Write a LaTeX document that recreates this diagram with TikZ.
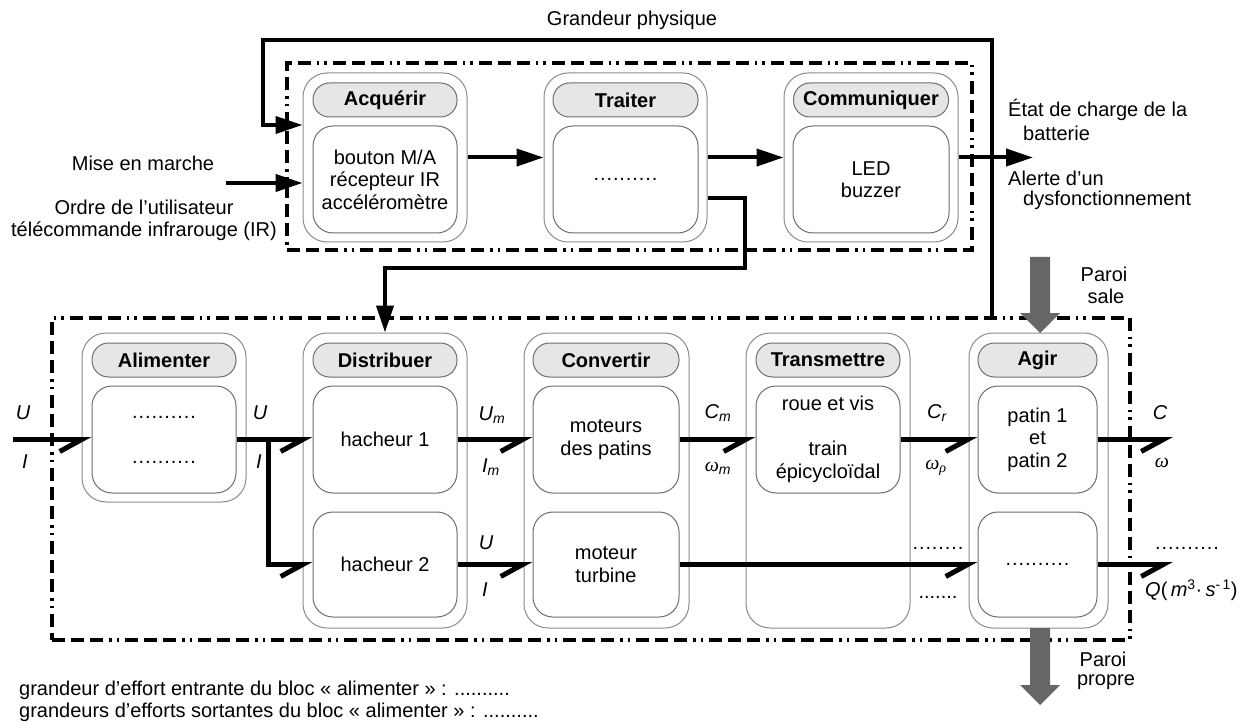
\documentclass[tikz,border=0pt]{standalone}
\usepackage{fontspec}
\setmainfont{Liberation Sans}
\newfontfamily\serifgr{Liberation Serif}
\usetikzlibrary{arrows.meta,calc}
\definecolor{pillfill}{HTML}{E6E6E6}
\definecolor{boxgrey}{HTML}{8C8C8C}
\definecolor{innergrey}{HTML}{6E6E6E}
\definecolor{bigarrow}{HTML}{666666}
\newcommand\bigfont{\fontsize{20}{22.5}\selectfont}
\newcommand\om{{\serifgr\itshape ω}}
\newcommand\dd{.\kern0.9pt}
\newcommand\dten{\dd\dd\dd\dd\dd\dd\dd\dd\dd.}
\tikzset{
 outerbox/.style={draw=boxgrey, line width=1pt, rounded corners=24pt, fill=white, inner sep=0pt},
 pill/.style={draw=innergrey, line width=1pt, rounded corners=16.5pt, fill=pillfill, minimum height=34pt, font=\bigfont\bfseries, inner sep=0pt},
 innerbox/.style={draw=innergrey, line width=1pt, rounded corners=20pt, fill=white, align=center, inner sep=0pt},
 frame/.style={draw=black, line width=3.5pt, inner sep=0pt, dash pattern=on 13pt off 6pt on 13pt off 6pt on 13pt off 6pt on 3pt off 5pt on 2pt off 6pt},
 toparrow/.style={line width=4pt, -{Triangle[length=27pt,width=17pt]}},
 flow/.style={line width=5pt, -{Straight Barb[harpoon,swap,length=22pt,width=24pt]}},
 lbl/.style={inner sep=0pt, font=\bigfont\itshape},
 txt/.style={inner sep=0pt, align=center},
 greyarrow/.style={fill=bigarrow},
}
\begin{document}
\begin{tikzpicture}[x=1pt,y=-1pt,font=\bigfont]
\useasboundingbox (0,0) rectangle (1240,722);

% frames
\node[frame, minimum width=685pt, minimum height=187pt] (tframe) at (629.5,156.5) {};
\node[frame, minimum width=1078pt, minimum height=322pt] (bframe) at (591,479) {};

% top blocks
\node[outerbox, minimum width=164pt, minimum height=169pt] (acq) at (385,157.5) {};
\node[pill, minimum width=144pt] (acqh) at (385,100) {Acquérir};
\node[innerbox, minimum width=144pt, minimum height=107pt] (acqi) at (385,179.5) {bouton M/A\\récepteur IR\\accéléromètre};

\node[outerbox, minimum width=163pt, minimum height=169pt] (tra) at (625.5,157.5) {};
\node[pill, minimum width=145pt] (trah) at (625.5,100) {Traiter};
\node[innerbox, minimum width=145pt, minimum height=107pt] (trai) at (625.5,179.5) {\dten};

\node[outerbox, minimum width=174pt, minimum height=169pt] (com) at (871,157.5) {};
\node[pill, minimum width=155pt] (comh) at (871,100) {Communiquer};
\node[innerbox, minimum width=156pt, minimum height=107pt] (comi) at (871,179.5) {LED\\buzzer};

% bottom blocks
\node[outerbox, minimum width=164pt, minimum height=169pt] (ali) at (164,417.5) {};
\node[pill, minimum width=144pt] (alih) at (164,360) {Alimenter};
\node[innerbox, minimum width=144pt, minimum height=107pt] (alii) at (164,439.5) {\dten\\[22.5pt]\dten};

\node[outerbox, minimum width=164pt, minimum height=295pt] (dis) at (385,480.5) {};
\node[pill, minimum width=144pt] (dish) at (385,360) {Distribuer};
\node[innerbox, minimum width=144pt, minimum height=107pt] (h1) at (385,439.5) {hacheur 1};
\node[innerbox, minimum width=144pt, minimum height=105pt] (h2) at (385,564.5) {hacheur 2};

\node[outerbox, minimum width=165pt, minimum height=295pt] (con) at (606.5,480.5) {};
\node[pill, minimum width=146pt] (conh) at (606,360) {Convertir};
\node[innerbox, minimum width=146pt, minimum height=107pt] (c1) at (606,439.5) {moteurs\\des patins};
\node[innerbox, minimum width=146pt, minimum height=105pt] (c2) at (606,564.5) {moteur\\turbine};

\node[outerbox, minimum width=164pt, minimum height=295pt] (trm) at (828,480.5) {};
\node[pill, minimum width=144pt] (trmh) at (828,360) {Transmettre};
\node[innerbox, minimum width=144pt, minimum height=107pt] (t1) at (828,439.5) {roue et vis\\[22.5pt]train\\épicycloïdal};

\node[outerbox, minimum width=139pt, minimum height=295pt] (agi) at (1038.5,480.5) {};
\node[pill, minimum width=119pt] (agih) at (1037.5,360) {Agir};
\node[innerbox, minimum width=119pt, minimum height=107pt] (a1) at (1037.5,439.5) {patin 1\\et\\patin 2};
\node[innerbox, minimum width=119pt, minimum height=105pt] (a2) at (1037.5,564.5) {\dten};

% top texts
\node[txt] (gptxt) at (632,20) {Grandeur physique};
\node[txt] (memtxt) at (143,163) {Mise en marche};
\node[txt, font=\fontsize{20}{22}\selectfont] (ordtxt) at (144,220) {Ordre de l’utilisateur\\télécommande infrarouge (IR)};
\node[inner sep=0pt, anchor=west] (etat1) at (1008,110) {État de charge de la};
\node[inner sep=0pt, anchor=west] (etat2) at (1023,133) {batterie};
\node[inner sep=0pt, anchor=west] (alert1) at (1008,178) {Alerte d’un};
\node[inner sep=0pt, anchor=west] (alert2) at (1023,200) {dysfonctionnement};
\node[txt] (sale1) at (1104,274) {Paroi};
\node[txt] (sale2) at (1106,296) {sale};
\node[txt] (prop1) at (1103,659) {Paroi};
\node[txt] (prop2) at (1106,682) {propre};

% top connectors
\coordinate (gp) at (992,318);
\draw[toparrow] (gp) |- (263,40) |- ($(acq.west)+(0,-32.5)$);
\coordinate (mem) at (226,183);
\draw[toparrow] (mem) -- ($(acq.west)+(0,25.5)$);
\draw[toparrow] (acq.east) -- (tra.west);
\draw[toparrow] (tra.east) -- (com.west);
\coordinate (comout) at (1033,157.5);
\draw[toparrow] (com.east) -- (comout);
\draw[toparrow] ($(tra.east)+(0,40.5)$) -| (745,268) -| (dis.north);

% grey arrows
\fill[greyarrow] (1030,257) -- (1050,257) -- (1050,313) -- (1060,313) -- (1040,333) -- (1020,313) -- (1030,313) -- cycle;
\fill[greyarrow] (1030,628) -- (1050,628) -- (1050,685) -- (1060,685) -- (1040,705) -- (1020,685) -- (1030,685) -- cycle;

% bottom connectors
\coordinate (uin) at (13,439.5);
\draw[flow] (uin) -- (alii.west);
\draw[flow] (alii.east) -- (h1.west);
\draw[flow] ($(alii.east)+(32,0)$) |- (h2.west);
\draw[flow] (h1.east) -- (c1.west);
\draw[flow] (h2.east) -- (c2.west);
\draw[flow] (c1.east) -- (t1.west);
\draw[flow] (t1.east) -- (a1.west);
\draw[flow] (c2.east) -- (a2.west);
\coordinate (out1) at (1173,439.5);
\coordinate (out2) at (1173,564.5);
\draw[flow] (a1.east) -- (out1);
\draw[flow] (a2.east) -- (out2);

% labels
\node[lbl] (u0) at (23,413) {U};
\node[lbl] (i0) at (25,462) {I};
\node[lbl] (u1) at (260,413) {U};
\node[lbl] (i1) at (259,462) {I};
\node[lbl] (um) at (492,415) {U\textsubscript{m}};
\node[lbl] (im) at (491,467) {I\textsubscript{m}};
\node[lbl] (u2) at (486,543) {U};
\node[lbl] (i2) at (485,590) {I};
\node[lbl] (cm) at (718,413) {C\textsubscript{m}};
\node[lbl] (wm) at (718,468) {\om\textsubscript{m}};
\node[lbl] (cr) at (937,413) {C\textsubscript{r}};
\node[lbl] (wp) at (936,468) {\om\textsubscript{\serifgr\itshape ρ}};
\node[lbl] (cc) at (1160,413) {C};
\node[lbl] (ww) at (1162,463) {\om};
\node[txt] (d1) at (938,548) {\dd\dd\dd\dd\dd\dd\dd.};
\node[txt] (d2) at (938,597) {.......};
\node[txt] (d3) at (1187,548) {\dten};
\node[inner sep=0pt, anchor=west] (qq) at (1145,590) {\textit{Q}(\,\textit{m}\textsuperscript{3}·\,\textit{s}\textsuperscript{-\,1})};

% bottom texts
\node[inner sep=0pt, anchor=west] (q1) at (19,690) {grandeur d’effort entrante du bloc « alimenter » : ..........};
\node[inner sep=0pt, anchor=west] (q2) at (19,712) {grandeurs d’efforts sortantes du bloc « alimenter » : ..........};
\end{tikzpicture}
\end{document}
